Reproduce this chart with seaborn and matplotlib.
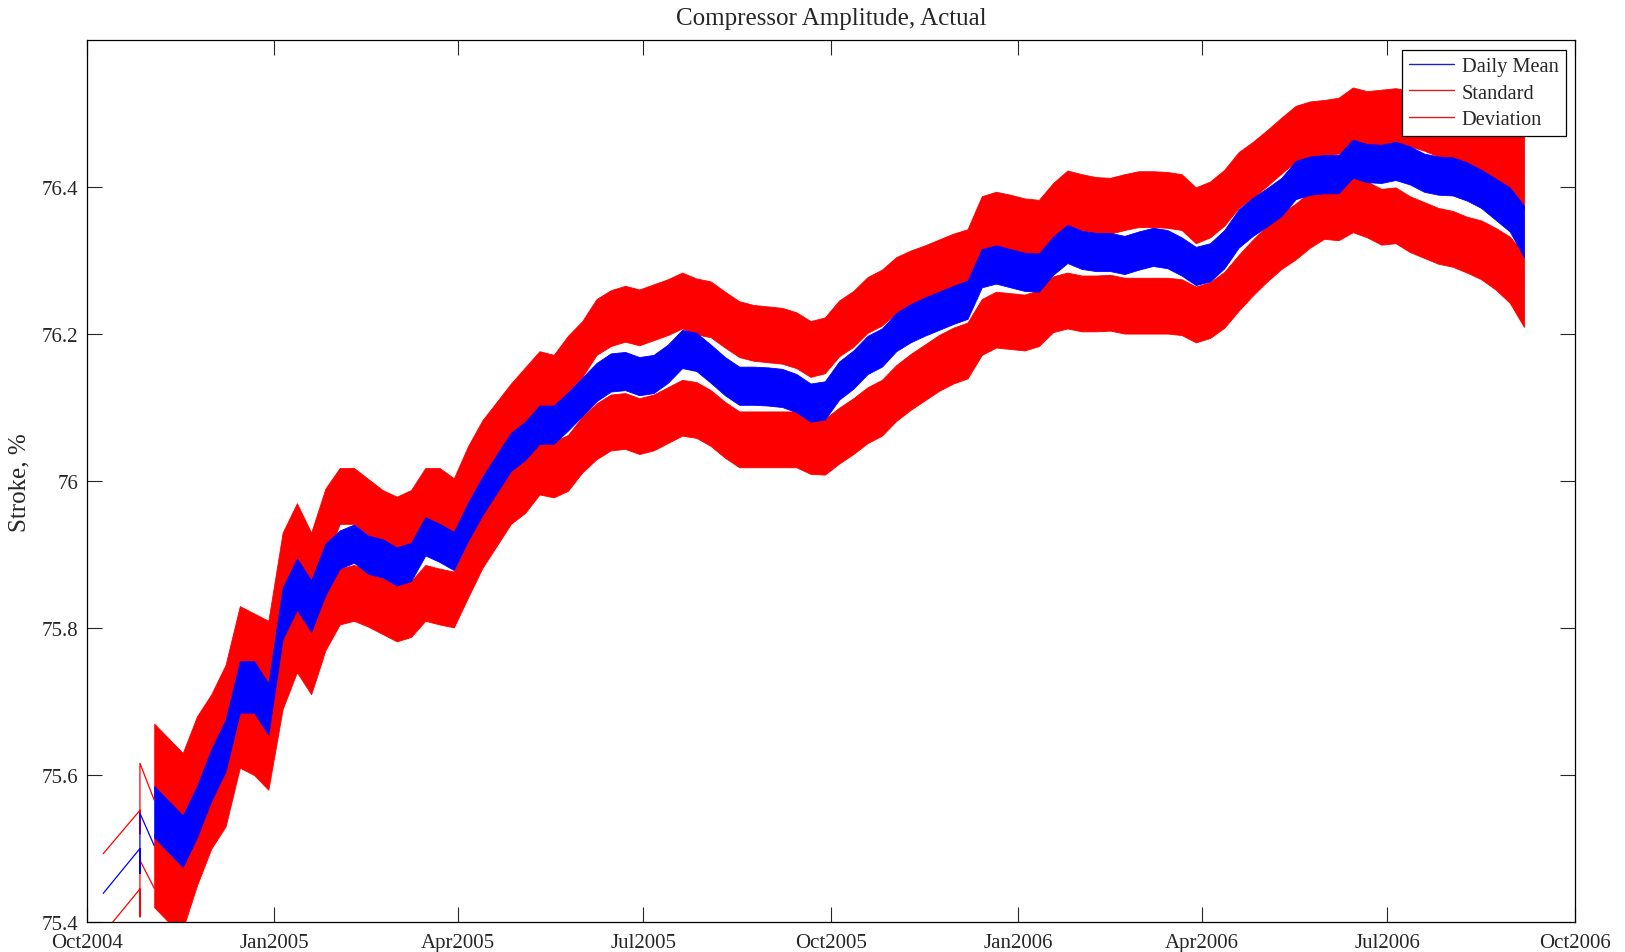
import numpy as np
import pandas as pd
import matplotlib
matplotlib.use("Agg")
import matplotlib.pyplot as plt
import matplotlib.dates as mdates
from matplotlib.lines import Line2D
import seaborn as sns

# ==========================================
# DATA
# ==========================================
# sparse readings before continuous logging started
early_dates = ["2004-10-09", "2004-10-27", "2004-10-27", "2004-10-27", "2004-11-03"]
early_mean = [75.439, 75.500, 75.466, 75.548, 75.504]
early_upper = [75.493, 75.552, 75.520, 75.616, 75.566]
early_lower = [75.384, 75.445, 75.407, 75.484, 75.446]

# weekly samples of the band centres, starting 3 Nov 2004
WEEK_START = "2004-11-03"
mean_mid = [
    75.55, 75.53, 75.51, 75.55, 75.60, 75.64, 75.72, 75.72, 75.69, 75.82,
    75.86, 75.83, 75.88, 75.907, 75.915, 75.90, 75.895, 75.884, 75.89, 75.925,
    75.916, 75.905, 75.945, 75.98, 76.01, 76.04, 76.055, 76.077, 76.077, 76.095,
    76.115, 76.135, 76.148, 76.150, 76.143, 76.146, 76.16, 76.18, 76.176, 76.16,
    76.143, 76.13, 76.13, 76.129, 76.127, 76.12, 76.107, 76.11, 76.137, 76.152,
    76.172, 76.182, 76.203, 76.215, 76.224, 76.232, 76.24, 76.247, 76.29, 76.295,
    76.29, 76.285, 76.284, 76.307, 76.323, 76.315, 76.312, 76.312, 76.308, 76.314,
    76.319, 76.316, 76.306, 76.293, 76.298, 76.316, 76.344, 76.36, 76.373, 76.387,
    76.41, 76.416, 76.418, 76.418, 76.439, 76.433, 76.432, 76.436, 76.43, 76.42,
    76.416, 76.415, 76.408, 76.398, 76.384, 76.37, 76.34,
]
upper_mid = [
    75.62, 75.60, 75.58, 75.63, 75.66, 75.70, 75.78, 75.77, 75.76, 75.88,
    75.92, 75.88, 75.94, 75.98, 75.98, 75.965, 75.95, 75.941, 75.95, 75.98,
    75.98, 75.966, 76.01, 76.045, 76.07, 76.095, 76.117, 76.139, 76.134, 76.16,
    76.18, 76.21, 76.222, 76.228, 76.223, 76.23, 76.237, 76.246, 76.238, 76.234,
    76.22, 76.207, 76.202, 76.20, 76.198, 76.192, 76.18, 76.185, 76.208, 76.221,
    76.24, 76.25, 76.267, 76.276, 76.283, 76.291, 76.299, 76.305, 76.35, 76.356,
    76.352, 76.347, 76.345, 76.368, 76.385, 76.38, 76.376, 76.375, 76.38, 76.384,
    76.384, 76.383, 76.38, 76.362, 76.37, 76.386, 76.41, 76.424, 76.44, 76.457,
    76.473, 76.479, 76.481, 76.484, 76.498, 76.493, 76.495, 76.497, 76.494, 76.488,
    76.48, 76.474, 76.466, 76.458, 76.444, 76.432, 76.42,
]
lower_mid = [
    75.47, 75.45, 75.44, 75.50, 75.55, 75.58, 75.66, 75.65, 75.63, 75.74,
    75.79, 75.76, 75.82, 75.843, 75.848, 75.84, 75.83, 75.82, 75.826, 75.848,
    75.843, 75.839, 75.88, 75.92, 75.95, 75.98, 75.995, 76.02, 76.016, 76.025,
    76.05, 76.068, 76.08, 76.082, 76.075, 76.08, 76.09, 76.10, 76.097, 76.086,
    76.07, 76.057, 76.057, 76.057, 76.057, 76.057, 76.048, 76.047, 76.062, 76.075,
    76.09, 76.10, 76.12, 76.135, 76.148, 76.161, 76.171, 76.178, 76.21, 76.22,
    76.218, 76.216, 76.222, 76.241, 76.246, 76.242, 76.242, 76.243, 76.239, 76.239,
    76.239, 76.239, 76.237, 76.227, 76.233, 76.247, 76.27, 76.291, 76.31, 76.327,
    76.34, 76.356, 76.368, 76.366, 76.377, 76.37, 76.36, 76.362, 76.35, 76.342,
    76.334, 76.33, 76.322, 76.315, 76.303, 76.288, 76.26,
]
# half-height of the hourly scatter around each centre
mean_half = [
    0.035, 0.035, 0.035, 0.035, 0.035, 0.035, 0.035, 0.035, 0.035, 0.035,
    0.035, 0.035, 0.035, 0.026, 0.026, 0.026, 0.026, 0.026, 0.026, 0.026,
    0.026, 0.026, 0.026, 0.026, 0.026, 0.026, 0.026, 0.026, 0.026, 0.026,
    0.026, 0.026, 0.026, 0.026, 0.026, 0.026, 0.026, 0.026, 0.026, 0.026,
    0.026, 0.026, 0.026, 0.026, 0.026, 0.026, 0.026, 0.026, 0.026, 0.026,
    0.026, 0.026, 0.026, 0.026, 0.026, 0.026, 0.026, 0.026, 0.026, 0.026,
    0.026, 0.026, 0.026, 0.026, 0.026, 0.026, 0.026, 0.026, 0.026, 0.026,
    0.026, 0.026, 0.026, 0.026, 0.026, 0.026, 0.026, 0.026, 0.026, 0.026,
    0.026, 0.026, 0.026, 0.026, 0.026, 0.026, 0.026, 0.026, 0.026, 0.026,
    0.026, 0.026, 0.026, 0.026, 0.028, 0.03, 0.035,
]
sd_half = [
    0.05, 0.05, 0.05, 0.05, 0.05, 0.05, 0.05, 0.05, 0.05, 0.05,
    0.05, 0.05, 0.05, 0.038, 0.038, 0.038, 0.038, 0.038, 0.038, 0.038,
    0.038, 0.038, 0.038, 0.038, 0.038, 0.038, 0.038, 0.038, 0.038, 0.038,
    0.038, 0.038, 0.038, 0.038, 0.038, 0.038, 0.038, 0.038, 0.038, 0.038,
    0.038, 0.038, 0.038, 0.038, 0.038, 0.038, 0.038, 0.038, 0.038, 0.038,
    0.038, 0.038, 0.038, 0.038, 0.038, 0.038, 0.038, 0.038, 0.038, 0.038,
    0.038, 0.038, 0.038, 0.038, 0.038, 0.038, 0.038, 0.038, 0.038, 0.038,
    0.038, 0.038, 0.038, 0.038, 0.038, 0.038, 0.038, 0.038, 0.038, 0.038,
    0.038, 0.038, 0.038, 0.038, 0.038, 0.038, 0.038, 0.038, 0.038, 0.038,
    0.038, 0.038, 0.038, 0.04, 0.042, 0.045, 0.05,
]

x_ticks = ["2004-10-01", "2005-01-01", "2005-04-01", "2005-07-01", "2005-10-01",
           "2006-01-01", "2006-04-01", "2006-07-01", "2006-10-01"]
y_ticks = [75.4, 75.6, 75.8, 76.0, 76.2, 76.4]
y_labels = ["75.4", "75.6", "75.8", "76", "76.2", "76.4"]
legend_labels = ["Daily Mean", "Standard", "Deviation"]

# ==========================================
# STYLE
# ==========================================
BLUE = "#0000ff"
RED = "#ff0000"
sns.set_style("ticks")
plt.rcParams["font.family"] = ["Liberation Serif", "DejaVu Serif"]
plt.rcParams["axes.linewidth"] = 0.9

weeks = pd.date_range(WEEK_START, periods=len(mean_mid), freq="7D")
early = pd.DataFrame({"date": pd.to_datetime(early_dates),
                      "mean": early_mean, "upper": early_upper, "lower": early_lower})

fig = plt.figure(figsize=(16.25, 9.53), dpi=100)
ax = fig.add_axes([0.0535, 0.0315, 0.9157, 0.925])

# standard deviation bands
for mid in (upper_mid, lower_mid):
    mid = np.array(mid)
    half = np.array(sd_half)
    ax.fill_between(weeks, mid - half, mid + half, color=RED, lw=0.6, edgecolor=RED)
# daily mean band
mid = np.array(mean_mid)
half = np.array(mean_half)
ax.fill_between(weeks, mid - half, mid + half, color=BLUE, lw=0.6, edgecolor=BLUE)

# sparse early readings
sns.lineplot(data=early, x="date", y="upper", estimator=None, sort=False,
             color=RED, lw=0.9, ax=ax)
sns.lineplot(data=early, x="date", y="lower", estimator=None, sort=False,
             color=RED, lw=0.9, ax=ax)
sns.lineplot(data=early, x="date", y="mean", estimator=None, sort=False,
             color=BLUE, lw=0.9, ax=ax)

ax.set_xlim(pd.Timestamp(x_ticks[0]), pd.Timestamp(x_ticks[-1]))
ax.set_ylim(75.4, 76.6)
ax.set_xticks(pd.to_datetime(x_ticks))
ax.xaxis.set_major_formatter(mdates.DateFormatter("%b%Y"))
ax.set_yticks(y_ticks)
ax.set_yticklabels(y_labels)
ax.tick_params(direction="in", length=11, width=0.8, top=True, right=True,
               labelsize=15, pad=6)
ax.tick_params(axis="x", pad=8)
ax.set_xlabel("")
ax.set_ylabel("Stroke, %", fontsize=18, labelpad=8)
ax.set_title("Compressor Amplitude, Actual", fontsize=18, pad=12)
for s in ax.spines.values():
    s.set_visible(True)
    s.set_color("black")

handles = [Line2D([], [], color="#2020c0", lw=1.0),
           Line2D([], [], color="#d02020", lw=1.0),
           Line2D([], [], color="#d02020", lw=1.0)]
leg = ax.legend(handles, legend_labels, loc="upper right", fontsize=14.7,
                fancybox=False, framealpha=1, edgecolor="black",
                handlelength=2.2, handletextpad=0.4, labelspacing=0.35,
                borderpad=0.35, borderaxespad=0.45)
leg.get_frame().set_linewidth(0.9)

fig.savefig("out.png", dpi=100)
